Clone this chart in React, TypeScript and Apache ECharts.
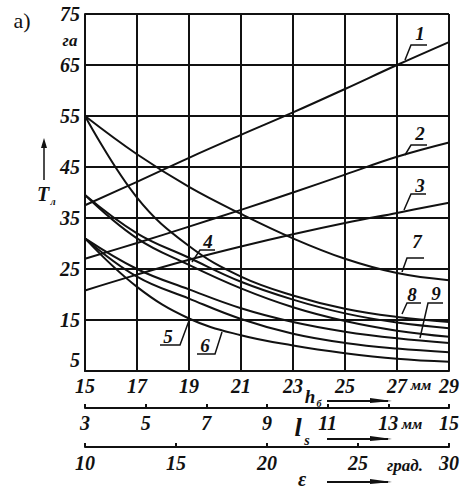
import React, { useEffect, useRef } from "react";
import * as echarts from "echarts";

// h_б values (mm) at which curves are read
const H_B = [15, 17, 19, 21, 23, 25, 27, 29];

// Rising curves
const CURVE_1 = [37.5, 42.1, 46.8, 51.3, 55.7, 60.3, 65, 69.5];
const CURVE_2 = [27, 30.1, 33.3, 36.6, 40, 43.5, 47, 49.8];
const CURVE_3 = [20.8, 23.9, 26.8, 29.4, 31.8, 34, 36, 38];

// Falling curves
const CURVE_7 = [55, 47.5, 41.1, 35.8, 31, 27, 24.2, 22.8];
const CURVE_4 = [55, 39, 29.5, 23.5, 19.8, 17.2, 15.6, 14.6];
const CURVE_8 = [39.5, 32, 27.2, 22.5, 19, 16.3, 14.5, 13.4];
const CURVE_9 = [39.5, 31, 25.8, 21.2, 17.5, 14.8, 12.9, 11.7];
const CURVE_10 = [31, 25, 21, 17.3, 14.6, 12.7, 11.4, 10.5];
const CURVE_6 = [31, 23.5, 19.2, 15.2, 12.3, 10.5, 9.4, 8.7];
const CURVE_5 = [31, 21.5, 15.3, 12, 10, 8.5, 7.4, 6.8];

// Axis ranges / ticks
const T_RANGE = [5, 75, 10];
const HB_RANGE = [15, 29, 2];
const LS_RANGE = [3, 15, 2];
const EPS_RANGE = [10, 30, 5];

const FONT = "Liberation Serif, DejaVu Serif, serif";
const INK = "#111";

function txt(text: string, x: number, y: number, size: number, opts: any = {}) {
  return {
    type: "text",
    z: 100,
    style: {
      text,
      x,
      y,
      fill: INK,
      fontFamily: FONT,
      fontSize: size,
      fontStyle: opts.normal ? "normal" : "italic",
      fontWeight: opts.normal ? "normal" : "bold",
      textAlign: opts.align || "center",
      textVerticalAlign: "middle",
    },
  };
}

function poly(points: number[][], w = 1.5) {
  return {
    type: "polyline",
    z: 100,
    shape: { points },
    style: { stroke: INK, lineWidth: w, fill: null },
  };
}

function arrowRight(x1: number, x2: number, y: number) {
  return [
    { type: "line", z: 100, shape: { x1, y1: y, x2: x2 - 4, y2: y }, style: { stroke: INK, lineWidth: 2 } },
    {
      type: "polygon",
      z: 100,
      shape: { points: [[x2 - 22, y - 3], [x2, y], [x2 - 22, y + 2]] },
      style: { fill: INK },
    },
  ];
}

export default function App() {
  const ref = useRef<HTMLDivElement>(null);
  useEffect(() => {
    const chart = echarts.init(ref.current!, null, { renderer: "svg" });
    const mk = (vals: number[]) => ({
      type: "line",
      data: H_B.map((h, i) => [h, vals[i]]),
      smooth: 0.4,
      showSymbol: false,
      symbol: "none",
      lineStyle: { color: INK, width: 2 },
      xAxisIndex: 0,
      yAxisIndex: 0,
    });
    const labelStyle = {
      color: INK,
      fontFamily: FONT,
      fontStyle: "italic",
      fontWeight: "bold",
      fontSize: 20,
    };
    chart.setOption({
      animation: false,
      grid: { left: 85, right: 23, top: 14, bottom: 120, show: false },
      xAxis: [
        {
          type: "value",
          min: HB_RANGE[0],
          max: HB_RANGE[1],
          interval: HB_RANGE[2],
          position: "bottom",
          axisLine: { show: true, onZero: false, lineStyle: { color: INK, width: 2 } },
          axisTick: { show: false },
          axisLabel: { ...labelStyle, margin: 5 },
          splitLine: { show: true, lineStyle: { color: INK, width: 2 } },
        },
        {
          type: "value",
          min: LS_RANGE[0],
          max: LS_RANGE[1],
          interval: LS_RANGE[2],
          position: "bottom",
          offset: 37,
          axisLine: { show: true, onZero: false, lineStyle: { color: INK, width: 2 } },
          axisTick: { show: true, inside: true, length: 4, lineStyle: { color: INK, width: 2 } },
          axisLabel: { ...labelStyle, margin: 5 },
          splitLine: { show: false },
        },
        {
          type: "value",
          min: EPS_RANGE[0],
          max: EPS_RANGE[1],
          interval: EPS_RANGE[2],
          position: "bottom",
          offset: 76,
          axisLine: { show: true, onZero: false, lineStyle: { color: INK, width: 2 } },
          axisTick: { show: true, inside: true, length: 4, lineStyle: { color: INK, width: 2 } },
          axisLabel: { ...labelStyle, margin: 6 },
          splitLine: { show: false },
        },
      ],
      yAxis: {
        type: "value",
        min: T_RANGE[0],
        max: T_RANGE[1],
        interval: T_RANGE[2],
        axisLine: { show: true, onZero: false, lineStyle: { color: INK, width: 2 } },
        axisTick: { show: false },
        axisLabel: {
          ...labelStyle,
          margin: 5,
          formatter: (v: number) => (v === T_RANGE[0] ? `{lo|${v}}` : `${v}`),
          rich: {
            lo: { ...labelStyle, padding: [0, 0, 22, 0] },
          },
        },
        splitLine: { show: true, lineStyle: { color: INK, width: 2 } },
      },
      series: [
        mk(CURVE_1),
        mk(CURVE_2),
        mk(CURVE_3),
        mk(CURVE_7),
        mk(CURVE_4),
        mk(CURVE_8),
        mk(CURVE_9),
        mk(CURVE_10),
        mk(CURVE_6),
        mk(CURVE_5),
      ],
      graphic: [
        // right border line
        { type: "line", z: 90, shape: { x1: 449, y1: 14, x2: 449, y2: 371 }, style: { stroke: INK, lineWidth: 2 } },
        txt("a)", 22, 20, 22, { normal: true }),
        txt("га", 70, 40, 17),
        // T_л with up arrow
        { type: "line", z: 100, shape: { x1: 44, y1: 180, x2: 44, y2: 146 }, style: { stroke: INK, lineWidth: 1.5 } },
        { type: "polygon", z: 100, shape: { points: [[41, 148], [44, 138], [47, 148]] }, style: { fill: INK } },
        txt("T", 43, 194, 20),
        txt("л", 53, 201, 10),
        // curve labels
        txt("1", 420, 33, 19),
        poly([[405, 60], [411, 45], [427, 45]]),
        txt("2", 420, 133, 19),
        poly([[405, 155], [411, 145], [427, 145]]),
        txt("3", 420, 185, 19),
        poly([[404, 210], [411, 194], [426, 194]]),
        txt("7", 417, 241, 19),
        poly([[402, 272], [407, 258], [424, 258]]),
        txt("8", 412, 294, 19),
        poly([[402, 314], [407, 303], [421, 303]]),
        txt("9", 436, 293, 19),
        poly([[420, 338], [428, 303], [443, 303]]),
        txt("4", 208, 241, 19),
        poly([[192, 262], [200, 250], [215, 250]]),
        txt("5", 168, 336, 19),
        poly([[160, 345], [180, 345], [190, 318]]),
        txt("6", 205, 345, 19),
        poly([[197, 354], [215, 354], [222, 332]]),
        // unit texts on axes
        txt("мм", 421, 385, 15),
        txt("h", 310, 396, 19),
        txt("б", 319, 403, 10),
        ...arrowRight(327, 392, 401),
        txt("мм", 412, 424, 15),
        txt("l", 298, 427, 26),
        txt("s", 307, 440, 14),
        ...arrowRight(327, 392, 439),
        txt("град.", 405, 465, 17),
        txt("ε", 302, 479, 20),
        ...arrowRight(327, 392, 482),
      ],
    });
    return () => chart.dispose();
  }, []);
  return (
    <div
      ref={ref}
      style={{ position: "absolute", left: 0, top: 0, width: 472, height: 491, background: "#fff" }}
    />
  );
}
